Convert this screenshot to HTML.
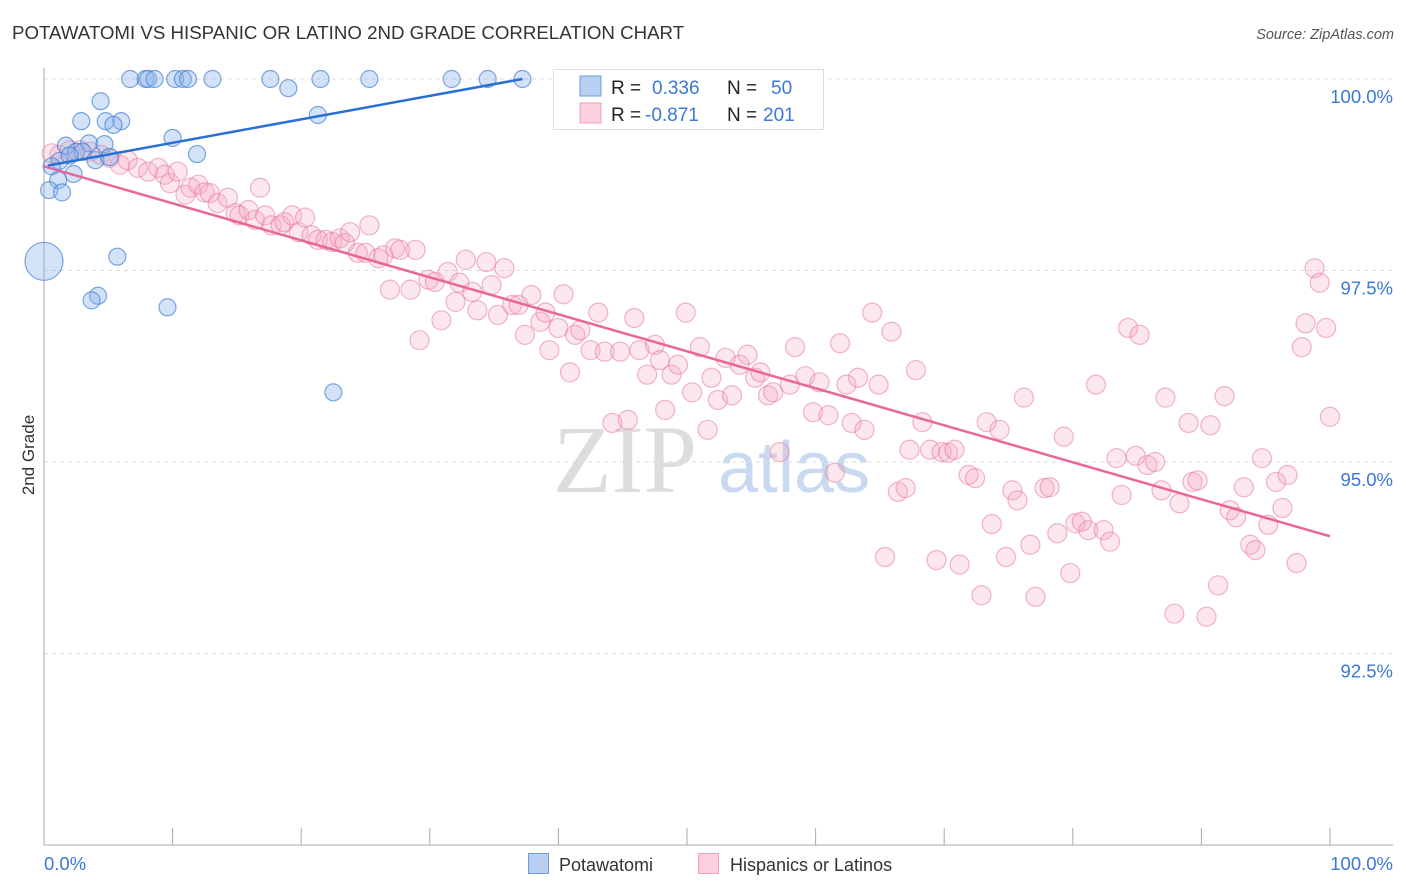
<!DOCTYPE html>
<html><head><meta charset="utf-8"><style>
body{margin:0;background:#fff;font-family:"Liberation Sans",sans-serif;}
svg{display:block}
</style></head><body>
<svg width="1406" height="892" viewBox="0 0 1406 892">
<text x="12" y="39" font-size="18.7" fill="#333">POTAWATOMI VS HISPANIC OR LATINO 2ND GRADE CORRELATION CHART</text>
<text x="1394" y="39" font-size="14.5" fill="#555" font-style="italic" text-anchor="end">Source: ZipAtlas.com</text>
<g>
<text x="553" y="492" font-size="96" font-family="Liberation Serif,serif" fill="#ddd">ZIP</text>
<text x="718" y="492" font-size="72" fill="#c9d9f0">atlas</text>
</g>
<g id="grid"></g>
<g id="axes"></g>
<g id="pts"></g>
<g id="lines"></g>
<text transform="translate(34,455) rotate(-90)" font-size="17" fill="#333" text-anchor="middle">2nd Grade</text>
<g>
<rect x="553.5" y="69.5" width="270" height="60" fill="#fff" stroke="#ddd"/>
<rect x="580" y="76" width="21" height="20" fill="#b7d0f2" stroke="#6b9ee0"/>
<rect x="580" y="103" width="21" height="20" fill="#fbd0dc" stroke="#f0a0b8"/>
<text x="611" y="94" font-size="19" fill="#222">R = </text><text x="652" y="94" font-size="19" fill="#3a78d4">0.336</text>
<text x="727" y="94" font-size="19" fill="#222">N = </text><text x="771" y="94" font-size="19" fill="#3a78d4">50</text>
<text x="611" y="121" font-size="19" fill="#222">R = </text><text x="645" y="121" font-size="19" fill="#3a78d4">-0.871</text>
<text x="727" y="121" font-size="19" fill="#222">N = </text><text x="763" y="121" font-size="19" fill="#3a78d4">201</text>
</g>
<g>
<rect x="528.5" y="853.5" width="20" height="20" fill="#b7d0f2" stroke="#6b9ee0"/>
<text x="559" y="871" font-size="18" fill="#333">Potawatomi</text>
<rect x="698.5" y="853.5" width="20" height="20" fill="#fbd0dc" stroke="#f0a0b8"/>
<text x="730" y="871" font-size="18" fill="#333">Hispanics or Latinos</text>
</g>
</svg>
<script>
const yTicks=[100,97.5,95,92.5];
const yTickLabels=["100.0%","97.5%","95.0%","92.5%"];
const xTickLabels=["0.0%","100.0%"];
const blueX=[6.7,7.9,8.1,8.6,10.2,10.8,11.2,13.1,17.6,21.5,25.3,31.7,34.5,37.2,19.0,4.4,2.9,6.0,4.8,5.4,10.0,21.3,3.5,1.7,4.7,11.9,2.5,4.0,1.2,0.6,1.1,0.4,1.4,2.3,0,5.7,4.2,3.7,9.6,22.5,3.0,2.0,5.1];
const blueY=[100,100,100,100,100,100,100,100,100,100,100,100,100,100,99.88,99.71,99.45,99.45,99.45,99.40,99.23,99.53,99.16,99.13,99.15,99.02,99.05,98.94,98.93,98.86,98.68,98.55,98.52,98.76,97.62,97.68,97.17,97.11,97.02,95.91,99.05,99.0,98.98];
const pinkX=[0.6,1.2,2.0,2.8,3.6,4.4,5.1,5.9,6.5,7.3,8.1,8.9,9.4,9.8,10.4,11.0,11.4,12.0,12.5,12.9,13.5,14.3,14.9,15.2,15.9,16.4,16.8,17.2,17.7,18.4,18.7,19.3,19.8,20.3,20.8,21.3,21.9,22.4,23.0,23.4,23.8,24.4,25.0,25.3,26.0,26.4,26.9,27.3,27.7,28.5,28.9,29.2,29.9,30.4,30.9,31.4,32.0,32.3,32.8,33.3,33.7,34.4,34.8,35.3,35.8,36.4,36.9,37.4,37.9,38.6,39.0,39.3,40.0,40.4,40.9,41.3,41.7,42.5,43.1,43.6,44.2,44.8,45.4,45.9,46.3,46.9,47.5,47.9,48.3,48.8,49.3,49.9,50.4,51.0,51.6,51.9,52.4,53.0,53.5,54.1,54.7,55.3,55.7,56.3,56.7,57.2,58.0,58.4,59.2,59.8,60.3,61.0,61.5,61.9,62.4,62.8,63.3,63.8,64.4,64.9,65.4,65.9,66.4,67.0,67.3,67.8,68.3,68.9,69.4,69.8,70.3,70.8,71.2,71.9,72.4,72.9,73.3,73.7,74.3,74.8,75.3,75.7,76.2,76.7,77.1,77.8,78.2,78.8,79.3,79.8,80.2,80.7,81.2,81.8,82.4,82.9,83.4,83.8,84.3,84.9,85.2,85.8,86.4,86.9,87.2,87.9,88.3,89.0,89.3,89.7,90.4,90.7,91.3,91.8,92.2,92.7,93.3,93.8,94.2,94.7,95.2,95.8,96.3,96.7,97.4,97.8,98.1,98.8,99.2,99.7,100];
const pinkY=[99.03,99.01,99.07,99.07,99.05,99.01,98.97,98.88,98.94,98.84,98.79,98.84,98.75,98.64,98.79,98.49,98.58,98.62,98.52,98.51,98.38,98.45,98.25,98.22,98.29,98.16,98.58,98.22,98.09,98.09,98.13,98.22,98.00,98.19,97.96,97.90,97.90,97.87,97.92,97.86,98.00,97.73,97.73,98.09,97.66,97.70,97.25,97.79,97.77,97.25,97.77,96.59,97.38,97.35,96.85,97.48,97.09,97.34,97.64,97.22,96.98,97.61,97.31,96.92,97.53,97.05,97.05,96.66,97.18,96.83,96.95,96.46,96.75,97.19,96.17,96.66,96.72,96.46,96.95,96.44,95.51,96.44,95.55,96.88,96.46,96.14,96.53,96.33,95.68,96.14,96.27,96.95,95.91,96.50,95.42,96.10,95.81,96.36,95.87,96.27,96.40,96.10,96.17,95.87,95.91,95.13,96.01,96.50,96.12,95.65,96.04,95.61,94.86,96.55,96.01,95.51,96.10,95.42,96.95,96.01,93.76,96.70,94.61,94.66,95.16,96.20,95.52,95.16,93.72,95.13,95.12,95.16,93.66,94.83,94.79,93.26,95.52,94.19,95.42,93.76,94.63,94.50,95.84,93.92,93.24,94.66,94.67,94.07,95.33,93.55,94.20,94.22,94.11,96.01,94.11,93.96,95.05,94.57,96.75,95.08,96.66,94.96,95.00,94.63,95.84,93.02,94.46,95.51,94.74,94.76,92.98,95.48,93.39,95.86,94.37,94.28,94.67,93.92,93.85,95.05,94.18,94.74,94.40,94.83,93.68,96.50,96.81,97.53,97.34,96.75,95.59];
const blueTrend=[[0.3,98.87],[37.2,100]];
const pinkTrend=[[0,98.86],[100,94.03]];
const NS="http://www.w3.org/2000/svg";
function sx(p){return 44+p*12.86;}
function sy(v){return 79+(100-v)*76.6;}
function mk(tag,at,parent){const e=document.createElementNS(NS,tag);for(const k in at)e.setAttribute(k,at[k]);document.getElementById(parent).appendChild(e);return e;}
yTicks.forEach((t,i)=>{
  const g=mk('line',{x1:44,x2:1393,y1:sy(t),y2:sy(t),stroke:'#ddd','stroke-dasharray':'4,4'},'grid');
  
  
  const l=mk('text',{x:1393,y:sy(t)+24,'font-size':18.5,fill:'#3a78d4','text-anchor':'end'},'grid');
  l.textContent=yTickLabels[i];
  
  
});
const ya=mk('line',{x1:44,x2:44,y1:68,y2:845,stroke:'#aaa'},'axes');


const xa=mk('line',{x1:44,x2:1393,y1:845,y2:845,stroke:'#aaa'},'axes');


for(let i=1;i<=10;i++){
  const t=mk('line',{x1:sx(i*10),x2:sx(i*10),y1:828,y2:845,stroke:'#aaa'},'axes');
  
  
}
const xl0=mk('text',{x:44,y:870,'font-size':18.5,fill:'#3a78d4'},'axes');xl0.textContent=xTickLabels[0];


const xl1=mk('text',{x:1393,y:870,'font-size':18.5,fill:'#3a78d4','text-anchor':'end'},'axes');xl1.textContent=xTickLabels[1];


pinkX.forEach((x,i)=>{
  const c=mk('circle',{cx:sx(x),cy:sy(pinkY[i]),r:9.5,fill:'rgba(246,170,195,0.28)',stroke:'rgba(232,120,155,0.55)','stroke-width':1.2},'pts');
  
  
});
blueX.forEach((x,i)=>{
  const c=mk('circle',{cx:sx(x),cy:sy(blueY[i]),r:(x===0&&blueY[i]<97.7)?19:8.5,fill:'rgba(140,180,235,0.38)',stroke:'rgba(70,130,210,0.7)','stroke-width':1.2},'pts');
  
  
});
const bl=mk('line',{x1:sx(blueTrend[0][0]),y1:sy(blueTrend[0][1]),x2:sx(blueTrend[1][0]),y2:sy(blueTrend[1][1]),stroke:'#2a6fd6','stroke-width':2.5},'lines');


const pl=mk('line',{x1:sx(pinkTrend[0][0]),y1:sy(pinkTrend[0][1]),x2:sx(pinkTrend[1][0]),y2:sy(pinkTrend[1][1]),stroke:'#e8679a','stroke-width':2.5},'lines');


</script>
</body></html>
